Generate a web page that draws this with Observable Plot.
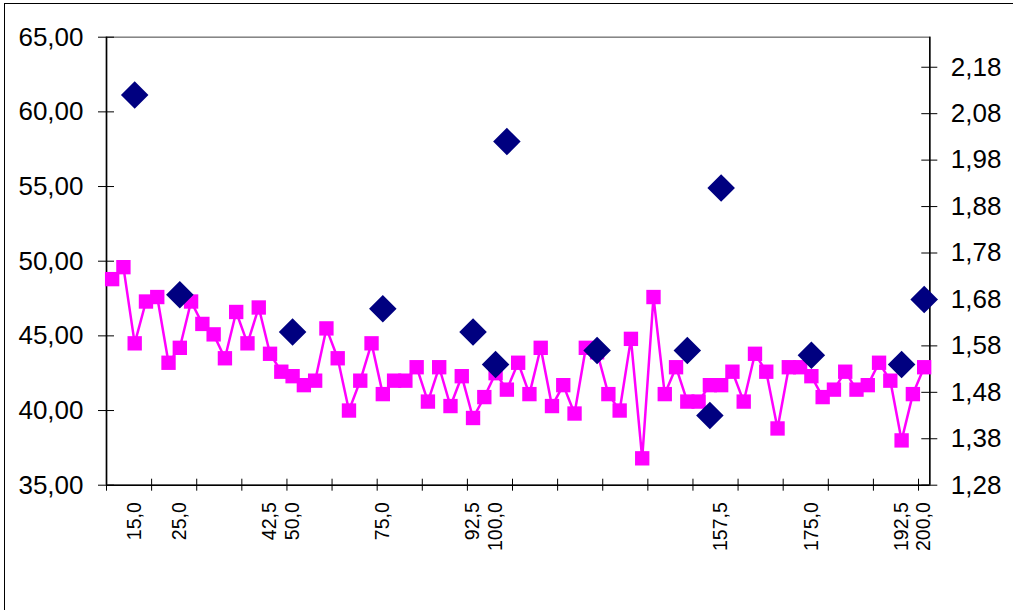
<!DOCTYPE html>
<html><head><meta charset="utf-8">
<script src="https://cdn.jsdelivr.net/npm/d3@7"></script>
<script src="https://cdn.jsdelivr.net/npm/@observablehq/plot@0.6"></script>
<style>
body{margin:0;background:#fff;overflow:hidden;font-family:"Liberation Sans",Arial,sans-serif;}
#wrap{position:relative;width:1013px;height:610px;}
#border{position:absolute;left:4px;top:3px;width:1100px;height:700px;border:1px solid #000;pointer-events:none;}
</style></head><body><div id="wrap"><div id="chart"></div><div id="border"></div></div>
<script>
// Category labels (73 categories, most blank)
const categories = [
  "", "", "15,0", "", "", "", "25,0", "", "", "",
  "", "", "", "", "42,5", "", "50,0", "", "", "",
  "", "", "", "", "75,0", "", "", "", "", "",
  "", "", "92,5", "", "100,0", "", "", "", "", "",
  "", "", "", "", "", "", "", "", "", "",
  "", "", "", "", "157,5", "", "", "", "", "",
  "", "", "175,0", "", "", "", "", "", "", "",
  "192,5", "", "200,0"
];
// Magenta series (left axis)
const magentaValues = [
  48.8, 49.6, 44.5, 47.3, 47.6, 43.2, 44.2, 47.3, 45.8, 45.1,
  43.5, 46.6, 44.5, 46.9, 43.8, 42.6, 42.3, 41.7, 42.0, 45.5,
  43.5, 40.0, 42.0, 44.5, 41.1, 42.0, 42.0, 42.9, 40.6, 42.9,
  40.3, 42.3, 39.5, 40.9, 42.5, 41.4, 43.2, 41.1, 44.2, 40.3,
  41.7, 39.8, 44.2, 43.9, 41.1, 40.0, 44.8, 36.8, 47.6, 41.1,
  42.9, 40.6, 40.6, 41.7, 41.7, 42.6, 40.6, 43.8, 42.6, 38.8,
  42.9, 42.9, 42.3, 40.9, 41.4, 42.6, 41.4, 41.7, 43.2, 42.0,
  38.0, 41.1, 42.9
];
// Navy diamond series (right axis), null where absent
const diamondValues = [
  null, null, 2.12, null, null, null, 1.69, null, null, null,
  null, null, null, null, null, null, 1.61, null, null, null,
  null, null, null, null, 1.66, null, null, null, null, null,
  null, null, 1.61, null, 1.54, 2.02, null, null, null, null,
  null, null, null, 1.57, null, null, null, null, null, null,
  null, 1.57, null, 1.43, 1.92, null, null, null, null, null,
  null, null, 1.56, null, null, null, null, null, null, null,
  1.54, null, 1.68
];
const leftTicks = [35, 40, 45, 50, 55, 60, 65];
const rightTicks = [1.28, 1.38, 1.48, 1.58, 1.68, 1.78, 1.88, 1.98, 2.08, 2.18];
const leftDomain = [35, 65];
const rightDomain = [1.28, 2.2447];

const toLeft = v => leftDomain[0] + (v - rightDomain[0]) * (leftDomain[1] - leftDomain[0]) / (rightDomain[1] - rightDomain[0]);
const fromLeft = v => rightDomain[0] + (v - leftDomain[0]) * (rightDomain[1] - rightDomain[0]) / (leftDomain[1] - leftDomain[0]);
const comma = (v, n) => v.toFixed(n).replace(".", ",");

const W = 1013, H = 610;
const ML = 106, MR = W - 929.3, MT = 36.7, MB = H - 484.7;
const plotW = W - ML - MR, plotH = H - MT - MB;
const N = categories.length;

const rows = magentaValues.map((v, i) => ({x: i + 0.5, y: v}));
const drows = diamondValues.map((v, i) => v == null ? null : {x: i + 0.5, y: toLeft(v)}).filter(d => d);
const labelTicks = categories.map((c, i) => c ? i + 0.5 : null).filter(d => d != null);
const catTicks = d3.range(0, N, 4);

const chart = Plot.plot({
  width: W, height: H,
  marginLeft: ML, marginRight: MR, marginTop: MT, marginBottom: MB,
  style: {fontFamily: "'Liberation Sans', Arial, sans-serif", background: "transparent", color: "#000"},
  x: {domain: [0, N]},
  y: {domain: leftDomain},
  marks: [
    Plot.frame({stroke: "#808080", strokeWidth: 1.5}),
    Plot.ruleX([0], {stroke: "#000", strokeWidth: 1.5}),
    Plot.ruleX([N], {stroke: "#000", strokeWidth: 1.5}),
    Plot.ruleY([leftDomain[0]], {stroke: "#000", strokeWidth: 1.5}),
    Plot.ruleY(leftTicks, {insetLeft: -8, insetRight: plotW - 8, stroke: "#000"}),
    Plot.ruleY(rightTicks.map(toLeft), {insetLeft: plotW - 8, insetRight: -8, stroke: "#000"}),
    Plot.ruleX(catTicks, {insetTop: plotH - 6, insetBottom: -6, stroke: "#000"}),
    Plot.axisY({anchor: "left", ticks: leftTicks, tickSize: 0, tickPadding: 23, tickFormat: d => comma(d, 2), fontSize: 26, label: null}),
    Plot.axisY({anchor: "right", ticks: rightTicks.map(toLeft), tickSize: 0, tickPadding: 21, tickFormat: d => comma(fromLeft(d), 2), fontSize: 26, label: null}),
    Plot.axisX({anchor: "bottom", ticks: labelTicks, tickSize: 0, tickPadding: 17, tickRotate: -90, tickFormat: d => categories[Math.floor(d)], fontSize: 19.5, label: null}),
    Plot.line(rows, {x: "x", y: "y", stroke: "#FF00FF", strokeWidth: 2.5}),
    Plot.dot(rows, {x: "x", y: "y", symbol: d3.symbolSquare, r: 8.1, fill: "#FF00FF", stroke: null}),
    Plot.dot(drows, {x: "x", y: "y", symbol: d3.symbolDiamond2, r: 12.4, fill: "#000080", stroke: null})
  ]
});
document.getElementById("chart").appendChild(chart);
</script></body></html>
